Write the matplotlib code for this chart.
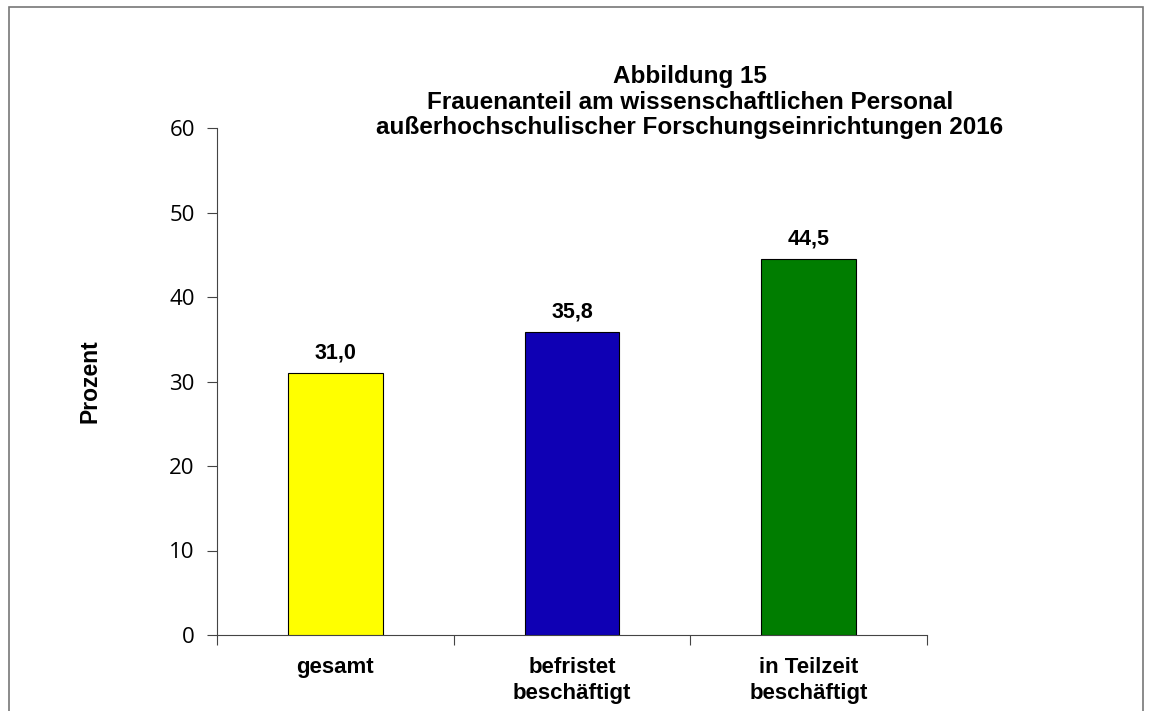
import matplotlib
matplotlib.use("Agg")
import matplotlib.pyplot as plt
from matplotlib.patches import Rectangle

categories = ["gesamt", "befristet\nbeschäftigt", "in Teilzeit\nbeschäftigt"]
values = [31.0, 35.8, 44.5]
colors = ["#FFFF00", "#0F00B4", "#007D00"]
yticks = [0, 10, 20, 30, 40, 50, 60]
title = "Abbildung 15\nFrauenanteil am wissenschaftlichen Personal\naußerhochschulischer Forschungseinrichtungen 2016"

W, H = 1152, 711
fig = plt.figure(figsize=(W / 100, H / 100), dpi=100)
ax = fig.add_axes([217 / W, 1 - 635 / H, (927 - 217) / W, (635 - 128) / H])

x = list(range(len(values)))
ax.bar(x, values, width=0.4, color=colors, edgecolor="black", linewidth=0.8, zorder=3)
for xi, v in zip(x, values):
    ax.annotate(f"{v:.1f}".replace(".", ","), (xi, v), xytext=(0, 7), textcoords="offset points",
                ha="center", va="bottom", fontsize=15.5, fontweight="bold", family="Liberation Sans")

ax.set_xlim(-0.5, len(values) - 0.5)
ax.set_ylim(0, 60)
ax.set_yticks(yticks)
ax.set_yticklabels([str(t) for t in yticks], family="Open Sans", fontsize=16)
ax.tick_params(axis="y", direction="out", length=7, width=0.8, color="#444444", pad=9)

ax.set_xticks([i - 0.5 for i in range(len(values) + 1)])
ax.set_xticklabels([])
ax.tick_params(axis="x", which="major", direction="out", length=7, width=0.8, color="#444444")
ax.set_xticks(x, minor=True)
ax.set_xticklabels(categories, minor=True, fontsize=16, fontweight="bold", family="Liberation Sans",
                   linespacing=1.3)
ax.tick_params(axis="x", which="minor", length=0, pad=16)

for s in ["top", "right"]:
    ax.spines[s].set_visible(False)
for s in ["left", "bottom"]:
    ax.spines[s].set_color("#444444")
    ax.spines[s].set_linewidth(0.8)

ax.set_ylabel("Prozent", fontsize=16.5, fontweight="bold", family="Liberation Sans", labelpad=49)

fig.text(690 / W, 1 - 65 / H, title, ha="center", va="top", fontsize=17.5, fontweight="bold",
         family="Liberation Sans", linespacing=1.15)

fig.patches.append(Rectangle((9 / W, -0.02), (1143 - 9) / W, 1 - 7 / H + 0.02, transform=fig.transFigure,
                             fill=False, edgecolor="#777777", linewidth=1.2))

fig.savefig("out.png", dpi=100)
